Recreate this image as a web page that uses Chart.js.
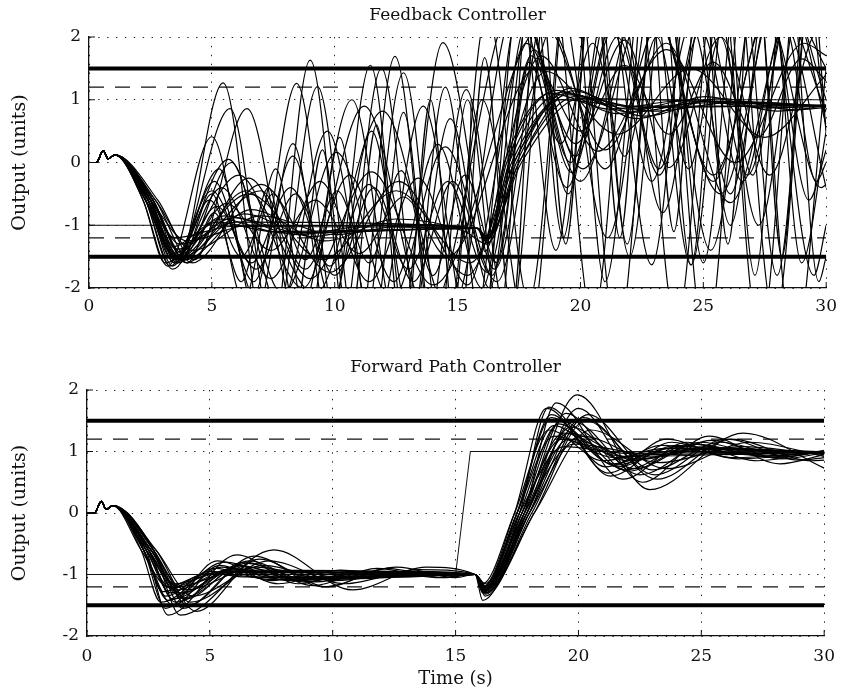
<!DOCTYPE html>
<html>
<head>
<meta charset="utf-8">
<title>Controller output runs</title>
<script src="https://cdn.jsdelivr.net/npm/chart.js@4/dist/chart.umd.min.js"></script>
<style>
  body { margin: 0; background: #fff; }
  canvas { position: absolute; left: 0; }
</style>
</head>
<body>
<canvas id="feedbackChart" width="845" height="340" style="top:0"></canvas>
<canvas id="forwardChart" width="845" height="353" style="top:340px"></canvas>
<script>
// --- AXES ---
const timeTicks = [0, 5, 10, 15, 20, 25, 30];
const outputTicks = [-2, -1, 0, 1, 2];
const limitLevels = [1.5, -1.5];   // hard limits (thick)
const bandLevels = [1.2, -1.2];    // tolerance band (dashed)

// --- DEMAND SIGNALS ---
const feedbackDemand = [[0, -1], [15.45, -1], [15.55, 1], [30, 1]];
const forwardDemand = [[0, -1], [15.0, -1], [15.6, 1], [30, 1]];

// every run shares the same first second
const launch = [[0, 0], [0.3, 0], [0.58, 0.19], [0.78, 0.06], [1.05, 0.12]];

// --- FEEDBACK CONTROLLER RUNS (turning points, t / output) ---
const fbSettled = [
    [[2.3,-0.6],[3.4,-1.45],[5.2,-0.95],[7.5,-1.1],[15.9,-1.05],[16.1,-1.42],[17.1,0],[19.3,1.12],[22,0.85],[25,0.95],[30,0.9]],
    [[2.5,-0.6],[3.7,-1.3],[6,-0.95],[15.8,-1.05],[16.2,-1.2],[17.3,0],[19.5,1.08],[22.5,0.88],[30,0.92]],
    [[2.2,-0.6],[3.1,-1.6],[5.5,-0.85],[8.5,-1.15],[11.5,-1.0],[15.8,-1.05],[16.2,-1.25],[17.0,0],[19.0,1.15],[21.5,0.78],[24.5,1.0],[27.5,0.87],[30,0.9]],
    [[2.7,-0.6],[4.2,-1.4],[7,-0.85],[10,-1.15],[13,-1.0],[15.8,-1.05],[16.2,-1.22],[17.5,0],[19.8,1.05],[23,0.82],[26.5,0.97],[30,0.9]],
    [[2.4,-0.6],[3.5,-1.2],[5.8,-1.02],[15.8,-1.05],[16.2,-1.18],[17.2,0],[19.2,1.0],[22,0.9],[30,0.9]],
    [[2.6,-0.6],[3.9,-1.55],[6.6,-0.75],[9.6,-1.25],[12.5,-0.9],[15.3,-1.1],[16.2,-1.3],[17.4,0],[19.6,1.18],[22.3,0.7],[25.1,1.05],[28,0.82],[30,0.9]],
    [[2.3,-0.6],[3.3,-1.35],[5.4,-0.9],[7.8,-1.12],[15.8,-1.05],[16.1,-1.25],[16.9,0],[18.8,1.1],[21.2,0.85],[24,0.98],[30,0.9]],
    [[2.5,-0.6],[4.0,-1.25],[6.5,-1.0],[15.8,-1.05],[16.2,-1.2],[17.6,0],[20,1.02],[30,0.9]],
    [[2.4,-0.6],[3.6,-1.38],[5.9,-0.88],[8.6,-1.12],[15.8,-1.05],[16.2,-1.22],[17.3,0],[19.4,1.1],[22.1,0.8],[25.2,0.98],[30,0.9]],
    [[2.6,-0.6],[3.8,-1.5],[6.3,-0.82],[9.1,-1.18],[12.0,-0.98],[15.8,-1.05],[16.2,-1.28],[17.5,0],[19.7,1.14],[22.6,0.74],[25.7,1.02],[28.7,0.84],[30,0.88]]
];
const fbSwinging = [
    [[2.4,-0.6],[3.5,-1.5],[5.67,0.05],[7.9,-2.1],[10.07,0.16],[12.3,-2.2],[14.5,0.25],[16.6,-1.9],[18.8,2.1],[21.0,-0.1],[23.2,2.2],[25.4,-0.3],[27.6,2.3],[29.8,-0.4],[30,-0.35]],
    [[2.6,-0.6],[4.0,-1.6],[6.5,-0.25],[9.0,-1.85],[11.5,-0.15],[14.0,-1.95],[18.5,2.2],[21.0,0.2],[23.5,1.9],[26.1,-0.64],[28.6,2.4],[30,1.5]],
    [[2.3,-0.6],[3.3,-1.65],[5.0,-0.45],[6.6,-1.6],[8.2,-0.4],[9.8,-1.65],[11.4,-0.35],[13.0,-1.7],[14.6,-0.3],[16.2,-1.75],[18.0,1.7],[19.65,-0.16],[21.3,2.1],[22.9,-0.3],[24.5,2.2],[26.1,-0.5],[27.7,2.4],[29.3,-0.6],[30,0.2]],
    [[2.5,-0.6],[3.6,-1.5],[4.9,-0.6],[6.2,-1.5],[7.5,-0.5],[8.8,-1.55],[10.1,-0.45],[11.4,-1.6],[12.7,-0.13],[14.0,-1.8],[15.3,-0.2],[16.6,-1.6],[17.9,1.6],[19.2,0.3],[20.5,1.9],[21.8,0.1],[23.1,2.0],[24.4,-0.1],[25.7,2.0],[27.0,-0.2],[28.3,2.2],[29.6,-0.3],[30,0.0]],
    [[2.7,-0.6],[4.2,-1.6],[7.0,-0.35],[9.8,-1.75],[12.6,-0.3],[15.4,-1.8],[18.4,1.7],[20.7,0.18],[23.5,1.8],[26.3,0.0],[29.1,1.9],[30,1.7]],
    [[2.3,-0.6],[3.4,-1.7],[5.4,-0.4],[7.4,-1.85],[9.4,-0.3],[11.4,-1.9],[13.4,-0.25],[15.4,-1.95],[17.8,1.9],[19.8,0.3],[21.8,1.95],[23.6,-0.08],[25.7,2.0],[27.7,-0.2],[29.7,2.1],[30,2.05]],
    [[2.6,-0.6],[3.8,-1.45],[5.6,-0.65],[7.4,-1.4],[9.2,-0.6],[11.0,-1.45],[12.8,-0.55],[14.6,-1.5],[18.2,1.5],[20.0,0.5],[21.8,1.55],[23.6,0.45],[25.4,1.6],[27.2,0.4],[29.0,1.65],[30,1.3]],
    [[2.5,-0.6],[3.5,-1.55],[6.5,-0.5],[9.5,-1.55],[12.5,-0.45],[15.5,-1.6],[18.6,1.45],[21.5,0.45],[24.5,1.5],[27.5,0.4],[30,1.4]],
    [[2.5,-0.6],[3.6,-1.55],[5.2,-0.7],[6.8,-1.7],[8.4,-0.5],[10.0,-1.8],[11.6,-0.4],[13.2,-1.9],[14.8,-0.3],[16.4,-1.8],[18.1,1.8],[19.8,0.1],[21.5,2.0],[23.2,-0.2],[24.9,2.1],[26.6,-0.3],[28.3,2.2],[30,-0.4]],
    [[2.4,-0.6],[3.5,-1.5],[6.1,-0.2],[8.7,-2.0],[11.2,0.9],[13.8,-2.4],[17.4,2.6],[20.0,-0.3],[22.6,2.8],[25.7,-0.5],[28.2,2.9],[30,1.0]],
    [[2.6,-0.6],[3.7,-1.55],[6.4,-0.45],[9.2,-2.1],[11.95,0.82],[14.7,-2.4],[17.4,2.5],[20.1,-0.1],[22.8,2.6],[25.4,-0.2],[27.9,2.7],[30,0.8]],
    [[2.3,-0.6],[3.5,-1.6],[7.0,-0.45],[8.8,-1.7],[10.6,-0.2],[12.4,-1.9],[14.2,0.29],[16.0,-2.0],[17.8,2.2],[19.6,0.0],[21.4,2.3],[23.2,-0.1],[25.0,2.4],[26.8,-0.2],[28.6,2.5],[30,0.6]]
];
const fbUnstable = [
    [[2.4,-0.6],[3.6,-1.6],[5.46,1.27],[7.3,-3.2],[9.0,1.63],[10.75,-3.4],[12.45,1.69],[14.25,-3.5],[16.0,1.0],[17.9,-2.8],[19.7,3.5],[21.5,-2.8],[23.3,3.6],[25.1,-2.9],[26.9,3.7],[28.7,-3.0],[30,1.5]],
    [[2.5,-0.6],[3.5,-1.55],[5.74,0.86],[7.5,-2.7],[9.3,1.21],[11.0,-3.0],[12.8,1.43],[14.5,-3.2],[16.2,2.4],[17.9,-2.2],[19.6,3.2],[21.0,-1.9],[22.7,3.3],[24.5,-1.63],[26.2,3.4],[27.9,-2.5],[29.6,3.5],[30,3.0]],
    [[2.2,-0.6],[3.2,-1.65],[5.0,0.41],[6.7,-2.1],[8.45,1.26],[10.2,-2.8],[11.9,1.5],[13.6,-3.0],[15.35,1.16],[17.1,-2.6],[18.8,3.0],[20.5,-2.5],[22.2,3.2],[23.9,-2.6],[25.6,3.3],[27.3,-2.8],[29.0,3.4],[30,0.5]],
    [[2.8,-0.6],[4.3,-1.55],[6.43,0.86],[8.5,-2.5],[10.7,1.0],[12.6,-2.7],[14.4,1.91],[16.5,-1.7],[18.9,3.0],[21.1,-1.2],[23.2,3.1],[25.3,-1.4],[27.4,3.2],[29.5,-1.8],[30,-1.0]],
    [[2.4,-0.6],[3.4,-1.65],[5.3,-0.1],[6.8,-2.4],[8.3,0.3],[9.8,-2.6],[11.45,1.55],[13.0,-2.9],[14.5,1.2],[16.0,-2.6],[17.5,2.6],[19.0,-1.4],[20.5,2.8],[22.0,-1.5],[23.5,3.0],[25.0,-1.6],[26.5,3.1],[28.0,-1.8],[29.5,3.2],[30,2.5]],
    [[2.5,-0.6],[3.7,-1.6],[5.0,-0.5],[6.3,-2.2],[7.6,-0.1],[8.9,-2.6],[10.2,0.4],[11.5,-2.8],[12.8,0.8],[14.1,-3.0],[15.4,1.0],[16.7,-2.4],[18.0,3.0],[19.3,-1.2],[20.6,3.2],[21.9,-1.3],[23.2,3.3],[24.5,-1.63],[25.8,3.4],[27.1,-1.8],[28.4,3.5],[29.7,-1.9],[30,-1.5]],
    [[2.6,-0.6],[3.8,-1.5],[5.8,0.0],[7.75,-2.3],[9.7,0.5],[11.65,-2.6],[13.6,0.9],[15.55,-2.8],[17.5,2.4],[19.45,-0.4],[21.4,2.8],[23.35,-0.8],[25.3,3.0],[27.25,-1.0],[29.2,3.1],[30,2.4]],
    [[2.4,-0.6],[3.5,-1.6],[5.1,-0.3],[6.7,-1.9],[8.3,0.1],[9.9,-2.2],[11.5,0.5],[13.1,-2.5],[14.7,0.7],[16.3,-2.0],[17.9,2.3],[19.5,-0.5],[21.1,2.6],[22.9,-1.63],[24.5,2.9],[26.1,-1.0],[27.7,3.0],[29.0,-1.6],[30,0.5]],
    [[2.3,-0.6],[4.0,-1.6],[5.1,-0.8],[6.2,-1.9],[7.3,-0.4],[8.4,-2.3],[9.5,0.2],[10.6,-2.6],[11.7,0.6],[12.8,-2.9],[13.9,1.0],[15.0,-3.1],[16.1,1.67],[17.2,-2.4],[18.3,3.0],[19.4,-1.3],[20.5,3.2],[21.6,-1.2],[22.7,3.2],[23.8,-1.1],[24.9,3.3],[26.0,-1.3],[27.1,3.4],[28.2,-1.5],[29.3,3.4],[30,0.5]]
];

// --- FORWARD PATH CONTROLLER RUNS ---
const fpRuns = [
    [[2.4,-0.6],[3.3,-1.66],[6.1,-0.68],[8.6,-1.15],[11,-0.95],[13.5,-1.02],[15.8,-1.0],[16.2,-1.25],[17.6,0],[18.8,1.72],[21.3,0.6],[23.8,1.15],[26.5,0.88],[30,1.0]],
    [[2.7,-0.6],[3.8,-1.66],[7.6,-0.6],[10.8,-1.25],[13.8,-0.88],[15.8,-1.0],[16.1,-1.42],[17.9,0],[19.95,1.92],[22.9,0.38],[26.7,1.3],[30,0.73]],
    [[2.8,-0.6],[4.45,-1.6],[7.0,-0.75],[9.8,-1.2],[12.2,-0.9],[14.5,-1.05],[15.8,-1.0],[16.2,-1.3],[17.8,0],[19.1,1.79],[21.8,0.55],[24.4,1.15],[27.3,0.85],[30,1.02]],
    [[2.3,-0.6],[3.5,-1.5],[5.4,-0.85],[7.5,-1.1],[9.5,-0.97],[15.8,-1.0],[16.1,-1.2],[17.4,0],[18.7,1.7],[21.1,0.75],[23.4,1.1],[26,0.95],[30,1.0]],
    [[2.3,-0.6],[3.2,-1.35],[5.0,-0.95],[7,-1.05],[15.8,-1.0],[16.3,-1.25],[17.7,0],[19.4,1.3],[22,0.85],[25,1.05],[30,0.98]],
    [[2.5,-0.6],[3.6,-1.25],[5.8,-0.92],[8,-1.05],[15.8,-1.0],[16.2,-1.22],[17.9,0],[19.6,1.2],[22.4,0.88],[25.5,1.05],[30,0.97]],
    [[2.6,-0.6],[4.0,-1.4],[6.4,-0.8],[8.8,-1.12],[11.4,-0.95],[15.8,-1.0],[16.2,-1.3],[18.0,0],[20.2,1.55],[23.2,0.55],[26.2,1.2],[29.5,0.85],[30,0.86]],
    [[2.2,-0.6],[3.3,-1.2],[4.8,-1.0],[15.8,-1.0],[16.2,-1.18],[17.5,0],[19.0,1.25],[21.5,0.9],[24.5,1.03],[30,1.0]],
    [[2.7,-0.6],[3.9,-1.55],[6.6,-0.78],[9.2,-1.18],[11.8,-0.9],[14.2,-1.05],[15.8,-1.0],[16.2,-1.35],[18.1,0],[20.4,1.6],[23.0,0.7],[25.8,1.15],[28.5,0.92],[30,1.0]],
    [[2.4,-0.6],[3.4,-1.3],[5.2,-0.9],[7.4,-1.08],[15.8,-1.0],[16.2,-1.2],[17.6,0],[19.2,1.45],[21.6,0.75],[24.0,1.1],[26.8,0.95],[30,1.0]],
    [[2.5,-0.6],[3.7,-1.2],[6.0,-0.95],[15.8,-1.0],[16.2,-1.2],[17.8,0],[19.8,1.12],[23,0.95],[30,1.0]],
    [[2.2,-0.6],[3.0,-1.45],[5.6,-0.8],[8.2,-1.1],[10.8,-0.95],[15.8,-1.0],[16.1,-1.28],[17.5,0],[18.9,1.6],[21.2,0.65],[23.6,1.2],[26.2,0.9],[30,1.0]],
    [[2.8,-0.6],[4.3,-1.35],[7.2,-0.85],[10.1,-1.1],[13.2,-0.95],[15.8,-1.0],[16.3,-1.22],[18.2,0],[20.5,1.35],[23.6,0.72],[27.0,1.15],[30,0.92]],
    [[2.5,-0.6],[3.5,-1.4],[5.9,-0.9],[8.4,-1.05],[15.8,-1.0],[16.2,-1.25],[17.7,0],[19.3,1.5],[21.9,0.7],[24.6,1.12],[27.4,0.93],[30,1.0]],
    [[2.3,-0.6],[3.1,-1.28],[4.9,-0.98],[6.5,-1.04],[15.8,-1.0],[16.1,-1.15],[17.4,0],[18.8,1.35],[21.0,0.85],[23.5,1.05],[30,1.0]],
    [[2.6,-0.6],[3.8,-1.3],[6.3,-0.87],[8.9,-1.08],[15.8,-1.0],[16.2,-1.22],[17.9,0],[19.7,1.4],[22.3,0.72],[25.0,1.15],[27.9,0.9],[30,1.0]],
    [[2.7,-0.6],[4.1,-1.5],[6.8,-0.7],[9.6,-1.2],[12.6,-0.88],[15.0,-1.05],[15.8,-1.0],[16.2,-1.32],[18.0,0],[20.0,1.7],[22.6,0.5],[25.3,1.25],[28.2,0.8],[30,0.95]],
    [[2.4,-0.6],[3.6,-1.15],[5.5,-0.97],[15.8,-1.0],[16.2,-1.15],[17.6,0],[19.4,1.08],[22,0.97],[30,1.0]],
    [[2.3,-0.6],[3.2,-1.55],[5.3,-0.78],[7.8,-1.15],[10.3,-0.93],[12.8,-1.04],[15.8,-1.0],[16.1,-1.3],[17.5,0],[18.9,1.55],[21.4,0.8],[23.7,1.05],[30,0.98]],
    [[2.6,-0.6],[4.0,-1.25],[6.9,-0.88],[9.9,-1.08],[15.8,-1.0],[16.2,-1.2],[18.0,0],[20.1,1.25],[23.3,0.82],[26.6,1.08],[30,0.95]],
    [[2.5,-0.6],[3.6,-1.45],[6.2,-0.85],[8.7,-1.1],[11.5,-0.97],[15.8,-1.0],[16.2,-1.28],[17.8,0],[19.5,1.62],[22.0,0.68],[24.8,1.12],[27.6,0.92],[30,1.0]],
    [[2.4,-0.6],[3.4,-1.22],[5.3,-0.96],[15.8,-1.0],[16.2,-1.2],[17.7,0],[19.3,1.2],[21.8,0.92],[30,1.0]],
    [[2.6,-0.6],[3.9,-1.38],[6.5,-0.82],[9.3,-1.12],[12.0,-0.96],[15.8,-1.0],[16.2,-1.26],[17.9,0],[19.8,1.48],[22.5,0.62],[25.4,1.18],[28.3,0.88],[30,0.98]],
    [[2.3,-0.6],[3.3,-1.42],[5.5,-0.88],[7.9,-1.08],[15.8,-1.0],[16.1,-1.22],[17.5,0],[19.0,1.42],[21.5,0.78],[24.1,1.08],[30,0.98]],
    [[2.7,-0.6],[4.2,-1.45],[7.4,-0.78],[10.5,-1.15],[13.5,-0.92],[15.8,-1.0],[16.2,-1.3],[18.2,0],[20.3,1.5],[23.1,0.62],[26.0,1.2],[29.0,0.86],[30,0.9]],
    [[2.5,-0.6],[3.7,-1.32],[5.9,-0.93],[15.8,-1.0],[16.2,-1.22],[17.8,0],[19.6,1.3],[22.3,0.86],[25.2,1.06],[30,0.98]]
];

// --- CHART SETUP ---
Chart.defaults.font.family = "'DejaVu Serif', 'Liberation Serif', serif";
Chart.defaults.font.size = 17;
Chart.defaults.color = '#111';

// small inward tick marks on the left and bottom axes
const innerTicks = {
    id: 'innerTicks',
    afterDraw(chart) {
        const { ctx, chartArea: a, scales: { x, y } } = chart;
        ctx.save();
        ctx.strokeStyle = '#111';
        ctx.lineWidth = 1;
        ctx.beginPath();
        x.ticks.forEach(t => {
            const px = x.getPixelForValue(t.value);
            ctx.moveTo(px, a.bottom);
            ctx.lineTo(px, a.bottom - 6);
        });
        y.ticks.forEach(t => {
            const py = y.getPixelForValue(t.value);
            ctx.moveTo(a.left, py);
            ctx.lineTo(a.left + 6, py);
        });
        ctx.stroke();
        ctx.restore();
    }
};

function runDataset(points) {
    return {
        data: launch.concat(points),
        borderColor: '#000',
        borderWidth: 1.2,
        pointRadius: 0,
        cubicInterpolationMode: 'monotone',
        fill: false
    };
}

function levelDatasets() {
    const sets = [];
    limitLevels.forEach(v => sets.push({
        data: [[0, v], [30, v]], borderColor: '#000', borderWidth: 4, pointRadius: 0
    }));
    bandLevels.forEach(v => sets.push({
        data: [[0, v], [30, v]], borderColor: '#111', borderWidth: 1.2,
        borderDash: [15, 11], pointRadius: 0
    }));
    return sets;
}

function buildChart(canvasId, cfg) {
    const datasets = cfg.runs.map(runDataset)
        .concat([{ data: cfg.demand, borderColor: '#111', borderWidth: 1, pointRadius: 0, tension: 0 }])
        .concat(levelDatasets());

    return new Chart(document.getElementById(canvasId), {
        type: 'line',
        data: { datasets },
        options: {
            responsive: false,
            animation: false,
            devicePixelRatio: 1,
            layout: { padding: { left: 0, right: cfg.padRight, top: 0, bottom: 0 } },
            plugins: {
                legend: { display: false },
                tooltip: { enabled: false },
                title: {
                    display: true,
                    text: cfg.title,
                    fullSize: false,
                    font: { size: 17, weight: 'normal' },
                    color: '#111',
                    padding: cfg.titlePad
                }
            },
            scales: {
                x: {
                    type: 'linear',
                    min: 0, max: 30,
                    afterBuildTicks: s => { s.ticks = timeTicks.map(v => ({ value: v })); },
                    afterFit: s => { s.height = cfg.xAxisHeight; },
                    ticks: { padding: cfg.xTickPad, maxRotation: 0 },
                    grid: { color: '#222', lineWidth: 1, drawTicks: false },
                    border: { display: true, color: '#111', width: 1.3, dash: [1.4, 7.5] },
                    title: {
                        display: !!cfg.xTitle,
                        text: cfg.xTitle || '',
                        font: { size: 18 },
                        padding: { top: 0, bottom: 3 }
                    }
                },
                y: {
                    type: 'linear',
                    min: -2, max: 2,
                    afterBuildTicks: s => { s.ticks = outputTicks.map(v => ({ value: v })); },
                    afterFit: s => { s.width = cfg.yAxisWidth; },
                    ticks: { padding: 8 },
                    grid: { color: '#222', lineWidth: 1, drawTicks: false },
                    border: { display: true, color: '#111', width: 1.3, dash: [1.4, 7.5] },
                    title: {
                        display: true,
                        text: 'Output (units)',
                        font: { size: 19 },
                        padding: { top: 9, bottom: 0 }
                    }
                }
            }
        },
        plugins: [innerTicks]
    });
}

buildChart('feedbackChart', {
    title: 'Feedback Controller',
    titlePad: { top: 5.3, bottom: 11.3 },
    runs: fbSettled.concat(fbSwinging, fbUnstable),
    demand: feedbackDemand,
    yAxisWidth: 89,
    padRight: 14,
    xAxisHeight: 52,
    xTickPad: 8
});

buildChart('forwardChart', {
    title: 'Forward Path Controller',
    titlePad: { top: 17.8, bottom: 11.8 },
    runs: fpRuns,
    demand: forwardDemand,
    yAxisWidth: 87,
    padRight: 16,
    xAxisHeight: 57,
    xTickPad: 10,
    xTitle: 'Time (s)'
});
</script>
</body>
</html>
